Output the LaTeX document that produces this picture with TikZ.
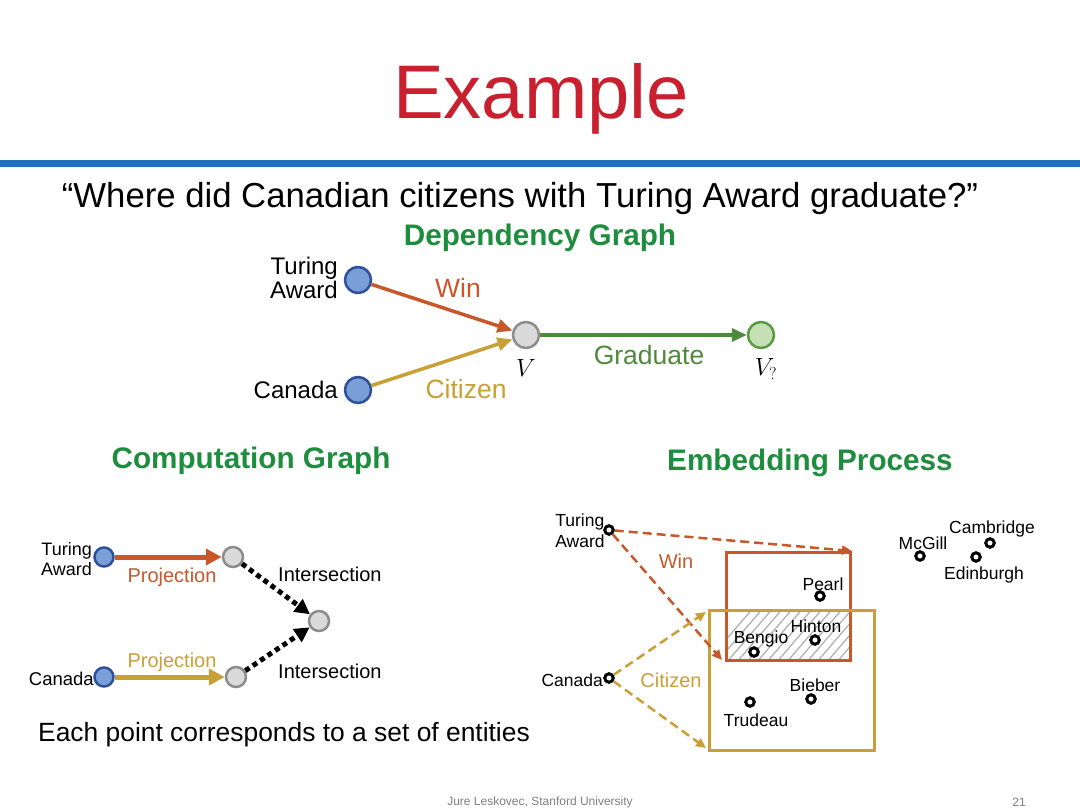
\documentclass[tikz,border=0pt]{standalone}
\usepackage{fontspec}
\setmainfont{Liberation Sans}
\usetikzlibrary{arrows.meta}
\definecolor{titlered}{HTML}{C8202F}
\definecolor{barblue}{HTML}{1F6FC0}
\definecolor{dgreen}{HTML}{1E8E3E}
\definecolor{orng}{HTML}{C8582A}
\definecolor{gold}{HTML}{C9A035}
\definecolor{grn}{HTML}{4E8A3A}
\definecolor{bfill}{HTML}{7A9ED8}
\definecolor{bdraw}{HTML}{2E4F9A}
\definecolor{gfill}{HTML}{DADADA}
\definecolor{gdraw}{HTML}{8C8C8C}
\definecolor{lgfill}{HTML}{C5E0B4}
\definecolor{lgdraw}{HTML}{5A9A40}
\tikzset{
  bnode/.style={circle,draw=bdraw,fill=bfill,line width=2.5pt,minimum size=#1,inner sep=0pt},
  gnode/.style={circle,draw=gdraw,fill=gfill,line width=2.5pt,minimum size=#1,inner sep=0pt},
  lgnode/.style={circle,draw=lgdraw,fill=lgfill,line width=2.5pt,minimum size=26pt,inner sep=0pt},
  pt/.style={circle,draw=black,fill=white,line width=3pt,minimum size=8.5pt,inner sep=0pt},
  lbl/.style={inner sep=0pt,font=\fontsize{24}{24}\selectfont},
  clbl/.style={inner sep=0pt,font=\fontsize{26.5}{26.5}\selectfont},
  slbl/.style={inner sep=0pt,font=\fontsize{17.5}{18}\selectfont},
  head/.style={inner sep=0pt,font=\fontsize{29.7}{30}\selectfont\bfseries,text=dgreen},
  darrow/.style={line width=3.5pt,-{Triangle[length=15pt,width=13pt]}},
  carrow/.style={line width=5pt,-{Triangle[length=16pt,width=16pt]}},
  dotarrow/.style={line width=5pt,dash pattern=on 5pt off 4pt,-{Triangle[length=15pt,width=15pt]}},
  dasharrow/.style={line width=2.5pt,dash pattern=on 9pt off 5pt,-{Triangle[length=10pt,width=9pt]}},
}
\begin{document}
\begin{tikzpicture}[x=1pt,y=-1pt]
\useasboundingbox[fill=white] (0,0) rectangle (1080,810);
% title and bar
\node[inner sep=0pt,text=titlered,font=\fontsize{76}{76}\selectfont] (title) at (541,99) {Example};
\fill[barblue] (0,160) rectangle (1080,167);
\node[inner sep=0pt,font=\fontsize{34.7}{35}\selectfont] (q) at (520,199) {“Where did Canadian citizens with Turing Award graduate?”};
\node[head] (dg) at (540,238) {Dependency Graph};
% dependency graph
\node[bnode=26pt] (ta) at (358,280) {};
\node[bnode=26pt] (ca) at (358,390) {};
\node[gnode=26pt] (v) at (526,335) {};
\node[lgnode] (vq) at (761,335) {};
\node[lbl,anchor=east,align=right,font=\fontsize{24}{22}\selectfont] (tal) at (338,278) {Turing\\Award};
\node[lbl,anchor=east] (cal) at (338,390) {Canada};
\draw[darrow,orng] (ta) -- (v);
\draw[darrow,gold] (ca) -- (v);
\draw[darrow,grn] (v) -- (vq);
\node[clbl,text=orng] (win) at (458,288) {Win};
\node[clbl,text=gold] (cit) at (466,389) {Citizen};
\node[clbl,text=grn] (grad) at (649,355) {Graduate};
\node[inner sep=0pt,font=\fontsize{27}{27}\selectfont] (vl) at (526,368) {$V$};
\node[inner sep=0pt,font=\fontsize{27}{27}\selectfont] (vql) at (766,369) {$V_?$};
% computation graph
\node[head] (cg) at (251,461) {Computation Graph};
\node[bnode=19pt] (cta) at (104,557) {};
\node[bnode=19pt] (cca) at (104,677) {};
\node[gnode=20pt] (cp1) at (233,557) {};
\node[gnode=20pt] (cp2) at (236,677) {};
\node[gnode=20pt] (ci) at (319,621) {};
\draw[carrow,orng] (cta) -- (cp1);
\draw[carrow,gold] (cca) -- (cp2);
\draw[dotarrow] (cp1) -- (ci);
\draw[dotarrow] (cp2) -- (ci);
\node[inner sep=0pt,anchor=east,align=right,font=\fontsize{18}{20}\selectfont] (ctal) at (92,559) {Turing\\Award};
\node[inner sep=0pt,anchor=east,font=\fontsize{18.5}{20}\selectfont] (ccal) at (94,679) {Canada};
\node[inner sep=0pt,text=orng,font=\fontsize{20}{20}\selectfont] (pr1) at (172,577) {Projection};
\node[inner sep=0pt,text=gold,font=\fontsize{20}{20}\selectfont] (pr2) at (172,662) {Projection};
\node[inner sep=0pt,anchor=west,font=\fontsize{20}{20}\selectfont] (in1) at (278,574) {Intersection};
\node[inner sep=0pt,anchor=west,font=\fontsize{20}{20}\selectfont] (in2) at (278,671) {Intersection};
\node[inner sep=0pt,font=\fontsize{26.4}{26.4}\selectfont] (each) at (284,735) {Each point corresponds to a set of entities};
% embedding process
\node[head] (ep) at (810,463) {Embedding Process};
% hatched intersection
\begin{scope}
\clip (726,610) rectangle (850,660);
\foreach \i in {0,10,...,200}{
  \draw[gray!60,line width=1.3pt] (700+\i,670) -- (760+\i,600);
}
\end{scope}
\draw[orng,line width=3pt] (726,552) rectangle (850,660);
\draw[gold,line width=3pt] (709,610) rectangle (874,750);
\node[pt] (eta) at (609,530) {};
\node[pt] (eca) at (609,678) {};
\coordinate (w1) at (852,551);
\coordinate (w2) at (722,660);
\coordinate (c1) at (706,612);
\coordinate (c2) at (706,748);
\draw[dasharrow,orng] (eta) -- (w1);
\draw[dasharrow,orng] (eta) -- (w2);
\draw[dasharrow,gold] (eca) -- (c1);
\draw[dasharrow,gold] (eca) -- (c2);
\node[slbl,align=left,font=\fontsize{17.5}{21}\selectfont] (etal) at (580,531) {Turing\\Award};
\node[slbl,anchor=east] (ecal) at (603,680) {Canada};
\node[inner sep=0pt,text=orng,font=\fontsize{20}{20}\selectfont] (ewin) at (676,561) {Win};
\node[inner sep=0pt,text=gold,font=\fontsize{20}{20}\selectfont] (ecit) at (671,680) {Citizen};
\node[pt] (pearl) at (820,596) {};
\node[slbl] (pearll) at (823,584) {Pearl};
\node[pt] (hinton) at (815,640) {};
\node[slbl] (hintonl) at (816,626) {Hinton};
\node[pt] (bengio) at (754,652) {};
\node[slbl] (bengiol) at (761,639) {Bengio};
\node[pt] (bieber) at (811,699) {};
\node[slbl] (bieberl) at (815,685) {Bieber};
\node[pt] (trudeau) at (750,702) {};
\node[slbl] (trudeaul) at (756,720) {Trudeau};
\node[pt] (mcgill) at (920,556) {};
\node[slbl] (mcgilll) at (923,543) {McGill};
\node[pt] (camb) at (990,543) {};
\node[slbl] (cambl) at (992,529) {Cambridge};
\node[pt] (edin) at (976,557) {};
\node[slbl] (edinl) at (984,575) {Edinburgh};
% footer
\node[inner sep=0pt,text=gray,font=\fontsize{12}{12}\selectfont] (foot) at (540,802) {Jure Leskovec, Stanford University};
\node[inner sep=0pt,text=gray,font=\fontsize{12}{12}\selectfont] (pg) at (1019,802) {21};
\end{tikzpicture}
\end{document}
